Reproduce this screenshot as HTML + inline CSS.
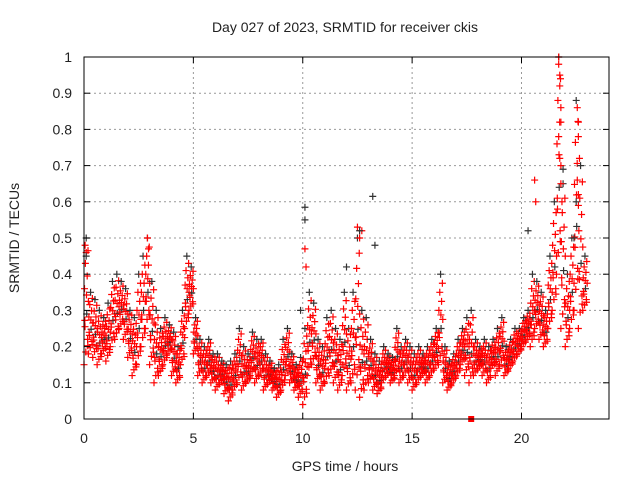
<!DOCTYPE html>
<html><head><meta charset="utf-8"><style>body{margin:0;background:#fff}svg{display:block}text{font-family:"Liberation Sans",sans-serif;font-size:14px;fill:#222}</style></head>
<body>
<svg id="chart" width="640" height="480" viewBox="0 0 640 480">
<text x="345" y="32" text-anchor="middle">Day 027 of 2023, SRMTID for receiver ckis</text>
<text x="345" y="471" text-anchor="middle">GPS time / hours</text>
<text transform="translate(19,238) rotate(-90)" text-anchor="middle">SRMTID / TECUs</text>
<g id="grid"></g>
<g id="marks"></g>
<rect x="84" y="57" width="525" height="362" fill="none" stroke="#000" stroke-width="1"/>
<g id="ticks"></g>
</svg>
<script>
const xTicks=[0,5,10,15,20];
const yTicks=[0,0.1,0.2,0.3,0.4,0.5,0.6,0.7,0.8,0.9,1];
const yTickLabels=["0","0.1","0.2","0.3","0.4","0.5","0.6","0.7","0.8","0.9","1"];
const hours=[0,0.2,0.4,0.6,0.8,1,1.2,1.4,1.6,1.8,2,2.2,2.4,2.6,2.8,3,3.2,3.4,3.6,3.8,4,4.2,4.4,4.6,4.8,5,5.2,5.4,5.6,5.8,6,6.2,6.4,6.6,6.8,7,7.2,7.4,7.6,7.8,8,8.2,8.4,8.6,8.8,9,9.2,9.4,9.6,9.8,10,10.2,10.4,10.6,10.8,11,11.2,11.4,11.6,11.8,12,12.2,12.4,12.6,12.8,13,13.2,13.4,13.6,13.8,14,14.2,14.4,14.6,14.8,15,15.2,15.4,15.6,15.8,16,16.2,16.4,16.6,16.8,17,17.2,17.4,17.6,17.8,18,18.2,18.4,18.6,18.8,19,19.2,19.4,19.6,19.8,20,20.2,20.4,20.6,20.8,21,21.2,21.4,21.6,21.8,22,22.2,22.4,22.6,22.8];
const redLow=[0.15,0.18,0.17,0.15,0.18,0.16,0.2,0.22,0.25,0.22,0.17,0.12,0.15,0.2,0.25,0.15,0.1,0.12,0.15,0.18,0.12,0.1,0.15,0.25,0.3,0.18,0.12,0.1,0.12,0.1,0.08,0.1,0.07,0.05,0.08,0.1,0.08,0.1,0.12,0.1,0.12,0.08,0.1,0.08,0.06,0.08,0.12,0.1,0.08,0.06,0.04,0.12,0.15,0.1,0.08,0.1,0.12,0.1,0.08,0.12,0.08,0.1,0.08,0.06,0.08,0.1,0.08,0.07,0.1,0.12,0.1,0.12,0.1,0.12,0.1,0.08,0.1,0.12,0.1,0.12,0.14,0.15,0.1,0.08,0.1,0.12,0.15,0.12,0.1,0.12,0.14,0.12,0.1,0.14,0.12,0.15,0.12,0.14,0.16,0.18,0.2,0.22,0.2,0.25,0.22,0.2,0.25,0.3,0.4,0.25,0.2,0.25,0.3,0.25,0.3];
const redHigh=[0.5,0.35,0.33,0.3,0.28,0.32,0.38,0.4,0.38,0.36,0.3,0.28,0.4,0.45,0.5,0.38,0.3,0.25,0.28,0.26,0.24,0.2,0.3,0.45,0.42,0.28,0.22,0.2,0.22,0.18,0.18,0.16,0.15,0.16,0.18,0.25,0.2,0.18,0.24,0.22,0.22,0.18,0.16,0.14,0.15,0.22,0.25,0.18,0.15,0.17,0.25,0.35,0.32,0.22,0.2,0.28,0.3,0.25,0.22,0.35,0.25,0.35,0.5,0.3,0.28,0.22,0.18,0.16,0.2,0.18,0.17,0.25,0.2,0.22,0.2,0.18,0.2,0.18,0.2,0.22,0.25,0.4,0.2,0.16,0.18,0.22,0.25,0.28,0.3,0.22,0.2,0.22,0.2,0.22,0.25,0.28,0.2,0.22,0.25,0.25,0.28,0.3,0.4,0.38,0.35,0.3,0.45,0.6,1.0,0.65,0.4,0.5,0.88,0.7,0.45];
const spikeHours=[21.7,21.7,21.75,21.75,21.8,21.8,21.7,21.75,21.8,21.85,22.55,22.6,22.6,22.65,22.55,22.6,20.6,20.65,12.5,12.6,12.7,10.1,10.15,2.9,2.95,0.05,0.1];
const spikeVals=[1.0,0.98,0.95,0.92,0.86,0.82,0.78,0.72,0.65,0.6,0.86,0.82,0.78,0.72,0.66,0.62,0.66,0.6,0.53,0.5,0.52,0.47,0.42,0.5,0.47,0.48,0.46];
const blackHours=[0.1,10.1,10.1,13.2,13.3,12.0,21.9,22.5,22.4,20.3,12.6,9.9];
const blackVals=[0.45,0.585,0.55,0.615,0.48,0.42,0.69,0.6,0.5,0.52,0.52,0.3];
const squareHour=[17.7];const squareVal=[0];
const X0=84,X1=609,Y0=419,Y1=57;
const sx=h=>X0+h/24*(X1-X0), sy=v=>Y0-v*(Y0-Y1);
const NS="http://www.w3.org/2000/svg";
const grid=document.getElementById('grid'),ticks=document.getElementById('ticks'),marks=document.getElementById('marks');
function mk(tag,attrs,parent){const e=document.createElementNS(NS,tag);for(const k in attrs)e.setAttribute(k,attrs[k]);parent.appendChild(e);return e;}
xTicks.forEach(t=>{const x=sx(t);
 if(t>0){const g=mk('line',{x1:x,x2:x,y1:Y0,y2:Y1,stroke:'#999','stroke-dasharray':'2,3'},grid);}
 const l=mk('line',{x1:x,x2:x,y1:Y0,y2:Y0-6,stroke:'#000'},ticks);
 const l2=mk('line',{x1:x,x2:x,y1:Y1,y2:Y1+6,stroke:'#000'},ticks);
 const tx=mk('text',{x:x,y:443,'text-anchor':'middle'},ticks);tx.textContent=String(t);});
yTicks.forEach((t,i)=>{const y=sy(t);
 if(t>0&&t<1){const g=mk('line',{x1:X0,x2:X1,y1:y,y2:y,stroke:'#999','stroke-dasharray':'2,3'},grid);}
 const l=mk('line',{x1:X0,x2:X0+6,y1:y,y2:y,stroke:'#000'},ticks);
 const l2=mk('line',{x1:X1,x2:X1-6,y1:y,y2:y,stroke:'#000'},ticks);
 const tx=mk('text',{x:72,y:y+5,'text-anchor':'end'},ticks);tx.textContent=yTickLabels[i];});
function plus(x,y,c){const p=mk('path',{d:`M${x-3.5},${y}h7M${x},${y-3.5}v7`,stroke:c,'stroke-width':1.2,fill:'none'},marks);}
const fr=[0,0.1,0.2,0.3,0.4,0.5,0.6,0.7,0.8,0.9,1,0.35,0.15,0.55];
const dx=[0,1.8,3.6,1,2.7,4.4,0.5,3.2,1.4,4.0,2.2,0.8,3.8,2.5];
hours.forEach((h,i)=>{const lo=redLow[i],hi=redHigh[i];
 for(let k=0;k<fr.length;k++){const v=lo+(hi-lo)*fr[k];
  const c=(k%6===4)?'#333':'#f00';plus(sx(h)+dx[k],sy(v),c);}});
spikeHours.forEach((h,i)=>plus(sx(h),sy(spikeVals[i]),'#f00'));
blackHours.forEach((h,i)=>plus(sx(h),sy(blackVals[i]),'#333'));
squareHour.forEach((h,i)=>{const r=mk('rect',{x:sx(h)-3,y:sy(squareVal[i])-3,width:6,height:6,fill:'#f00'},marks);});
</script>
</body></html>
